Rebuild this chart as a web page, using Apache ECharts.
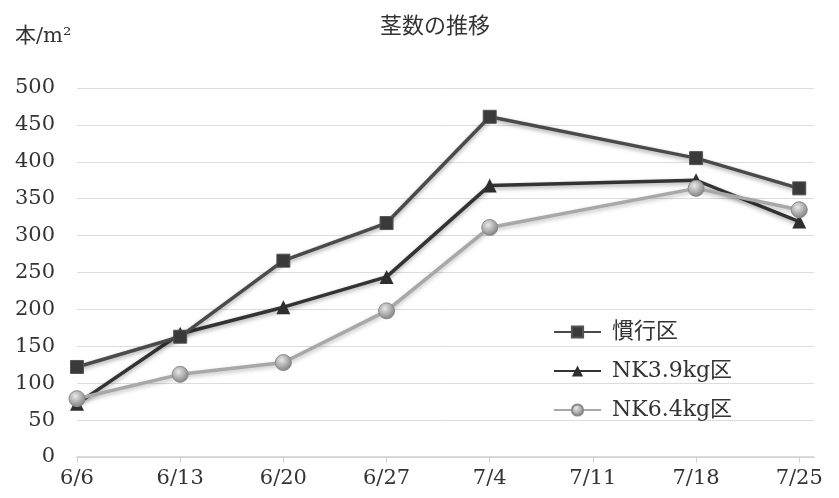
<!DOCTYPE html>
<html lang="ja">
<head>
    <meta charset="UTF-8">
    <title>茎数の推移</title>
    <script src="https://cdn.jsdelivr.net/npm/echarts@6/dist/echarts.min.js"></script>
    <style>
        html, body { margin: 0; padding: 0; background: #fff; }
        #main { width: 839px; height: 498px; }
    </style>
</head>
<body>
<div id="main"></div>
<script>
    // 日付（6/6からの日数）と目盛ラベル
    var tickLabels = ['6/6', '6/13', '6/20', '6/27', '7/4', '7/11', '7/18', '7/25'];
    var days = [0, 7, 14, 21, 28, 42, 49];

    var seriesNames = ['慣行区', 'NK3.9kg区', 'NK6.4kg区'];
    var kanko = [122, 163, 266, 317, 461, 405, 364];
    var nk39 = [72, 167, 203, 244, 368, 375, 319];
    var nk64 = [79, 112, 128, 198, 311, 364, 335];

    var serif = '"DejaVu Serif", "Liberation Serif", "Noto Sans CJK JP"';

    function pairs(vals) {
        return days.map(function (d, i) { return [d, vals[i]]; });
    }

    var myChart = echarts.init(document.getElementById('main'));

    var option = {
        backgroundColor: '#fff',
        animation: false,
        title: [{
            text: '茎数の推移',
            left: 430,
            textAlign: 'center',
            top: 11,
            textStyle: { fontFamily: serif, fontSize: 22, fontWeight: 'normal', color: '#333' }
        }, {
            text: '本/m²',
            left: 10,
            top: 21,
            textStyle: { fontFamily: serif, fontSize: 21, fontWeight: 'normal', color: '#333' }
        }],
        grid: { left: 77, right: 25, top: 88, bottom: 41 },
        legend: {
            orient: 'vertical',
            left: 548,
            top: 316,
            itemGap: 17,
            itemWidth: 47,
            itemHeight: 14,
            textStyle: { fontFamily: serif, fontSize: 22, color: '#333', padding: [0, 0, 0, 6] },
            data: seriesNames
        },
        xAxis: {
            type: 'value',
            min: 0,
            max: 50,
            interval: 7,
            splitLine: { show: false },
            axisLine: { lineStyle: { color: '#d0d0d0', width: 1.5 } },
            axisTick: { show: true, length: 6, lineStyle: { color: '#d0d0d0' } },
            axisLabel: {
                fontFamily: serif, fontSize: 21, color: '#333', margin: 11,
                showMaxLabel: false,
                formatter: function (v) { return tickLabels[Math.round(v / 7)] || ''; }
            }
        },
        yAxis: {
            type: 'value',
            min: 0,
            max: 500,
            interval: 50,
            axisLine: { show: false },
            axisTick: { show: false },
            splitLine: { lineStyle: { color: '#dcdcdc', width: 1 } },
            axisLabel: { fontFamily: serif, fontSize: 21, color: '#333', margin: 22 }
        },
        series: [{
            name: seriesNames[0],
            type: 'line',
            data: pairs(kanko),
            symbol: 'rect',
            symbolSize: 13,
            lineStyle: { color: '#4a4a4a', width: 3.5, shadowColor: 'rgba(0,0,0,0.35)', shadowBlur: 4, shadowOffsetY: 2 },
            itemStyle: { color: '#3a3a3a', borderColor: '#555', borderWidth: 1 },
            z: 3
        }, {
            name: seriesNames[1],
            type: 'line',
            data: pairs(nk39),
            symbol: 'triangle',
            symbolSize: 14,
            lineStyle: { color: '#333', width: 3.5, shadowColor: 'rgba(0,0,0,0.35)', shadowBlur: 4, shadowOffsetY: 2 },
            itemStyle: { color: '#2e2e2e' },
            z: 2
        }, {
            name: seriesNames[2],
            type: 'line',
            data: pairs(nk64),
            symbol: 'circle',
            symbolSize: 16,
            lineStyle: { color: '#a8a8a8', width: 3.5, shadowColor: 'rgba(0,0,0,0.25)', shadowBlur: 4, shadowOffsetY: 2 },
            itemStyle: {
                color: new echarts.graphic.RadialGradient(0.4, 0.35, 0.7, [
                    { offset: 0, color: '#e8e8e8' },
                    { offset: 1, color: '#7a7a7a' }
                ]),
                borderColor: '#8a8a8a',
                borderWidth: 1
            },
            z: 4
        }]
    };

    myChart.setOption(option);
</script>
</body>
</html>
